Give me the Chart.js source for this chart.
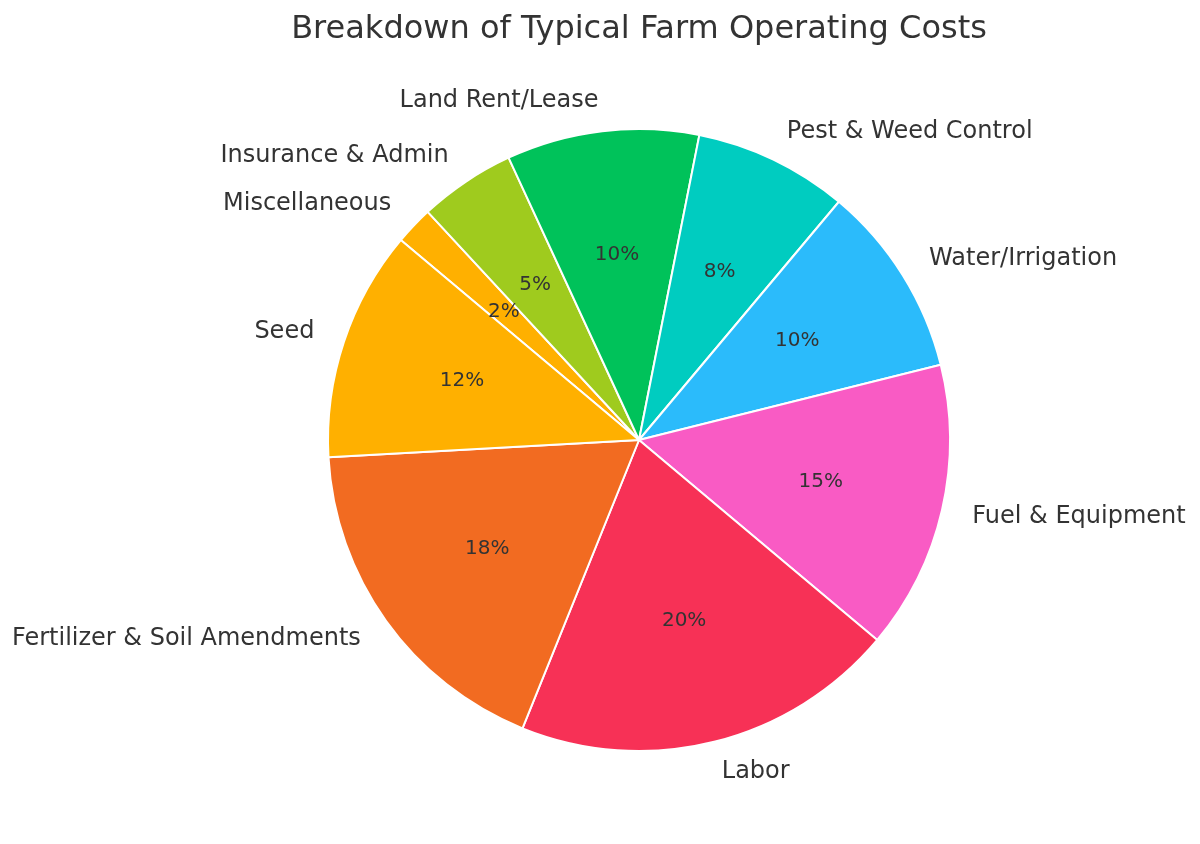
<!DOCTYPE html>
<html lang="en">
<head>
  <meta charset="UTF-8">
  <title>Breakdown of Typical Farm Operating Costs</title>
  <style>
    html, body {
      margin: 0;
      padding: 0;
      background-color: #fff;
    }
    .chart-container {
      width: 1200px;
      height: 844px;
    }
  </style>
  <script src="https://cdn.jsdelivr.net/npm/chart.js"></script>
</head>
<body>
<div class="chart-container">
  <canvas id="costChart"></canvas>
</div>

<script>
  const chartTitle = 'Breakdown of Typical Farm Operating Costs';

  // Slices listed clockwise, starting just left of the upper-left edge
  const categories = [
    'Miscellaneous',
    'Insurance & Admin',
    'Land Rent/Lease',
    'Pest & Weed Control',
    'Water/Irrigation',
    'Fuel & Equipment',
    'Labor',
    'Fertilizer & Soil Amendments',
    'Seed'
  ];
  const shares = [2, 5, 10, 8, 10, 15, 20, 18, 12];
  const sliceColors = [
    '#FFB000', '#9FCB1E', '#00C25A', '#00CCC0', '#2BBBFB',
    '#F95BC4', '#F73156', '#F26B21', '#FFB000'
  ];

  const textColor = '#333333';
  const fontFamily = '"DejaVu Sans", Arial, sans-serif';

  // Title centred over the pie, labels outside and percentages inside (matplotlib style)
  const sliceLabels = {
    id: 'sliceLabels',
    afterDatasetsDraw(chart) {
      const ctx = chart.ctx;
      const arcs = chart.getDatasetMeta(0).data;
      ctx.save();
      ctx.fillStyle = textColor;

      ctx.font = '32px ' + fontFamily;
      ctx.textAlign = 'center';
      ctx.textBaseline = 'alphabetic';
      ctx.fillText(chartTitle, arcs[0].x, 38);

      arcs.forEach((arc, i) => {
        const mid = (arc.startAngle + arc.endAngle) / 2;
        const r = arc.outerRadius;
        const cos = Math.cos(mid);
        const sin = Math.sin(mid);

        ctx.font = '20px ' + fontFamily;
        ctx.textAlign = 'center';
        ctx.textBaseline = 'middle';
        ctx.fillText(shares[i] + '%', arc.x + cos * r * 0.6, arc.y + sin * r * 0.6);

        ctx.font = '24px ' + fontFamily;
        ctx.textAlign = cos >= 0 ? 'left' : 'right';
        ctx.fillText(categories[i], arc.x + cos * r * 1.1, arc.y + sin * r * 1.1);
      });
      ctx.restore();
    }
  };

  const ctxCost = document.getElementById('costChart').getContext('2d');
  new Chart(ctxCost, {
    type: 'pie',
    data: {
      labels: categories,
      datasets: [{
        data: shares,
        backgroundColor: sliceColors,
        borderColor: '#ffffff',
        borderWidth: 2
      }]
    },
    options: {
      responsive: true,
      maintainAspectRatio: false,
      animation: false,
      rotation: -50,
      layout: {
        padding: { top: 128, bottom: 92, left: 327, right: 249 }
      },
      plugins: {
        legend: { display: false },
        tooltip: { enabled: false },
        title: { display: false }
      }
    },
    plugins: [sliceLabels]
  });
</script>
</body>
</html>
